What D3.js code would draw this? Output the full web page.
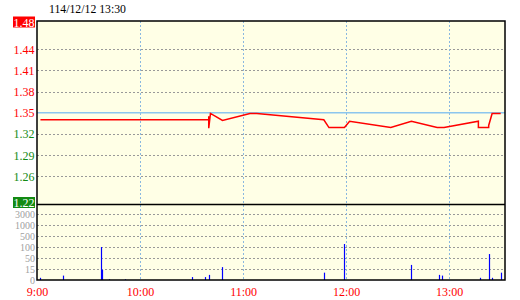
<!DOCTYPE html>
<html>
<head>
<meta charset="utf-8">
<script src="https://cdn.jsdelivr.net/npm/d3@7"></script>
<style>
    body { margin: 0; background: #fff; }
    text { font-family: "Liberation Serif", serif; }
</style>
</head>
<body>
<div id="chart"></div>
<script>
var title = "114/12/12 13:30";
var prevClose = 1.35;

// price axis labels (limit up / limit down at the ends)
var priceTicks = [1.48, 1.44, 1.41, 1.38, 1.35, 1.32, 1.29, 1.26, 1.22];

// volume axis is not linear: each label sits on an even step
var volTicks = [0, 15, 50, 100, 500, 1000, 3000];
var volTickLabels = ["0", "15", "50", "100", "500", "1000", "3000"];

var timeTicks = ["9:00", "10:00", "11:00", "12:00", "13:00"];

// price line
var priceTimes = ["9:02", "10:40", "10:40", "10:40", "10:41", "10:48", "11:04", "11:08", "11:47", "11:50",
    "11:59", "12:00", "12:02", "12:26", "12:38", "12:53", "12:57", "13:17", "13:17", "13:23", "13:23", "13:25", "13:30"];
var priceValues = [1.340, 1.340, 1.345, 1.328, 1.349, 1.339, 1.349, 1.349, 1.340, 1.329,
    1.329, 1.332, 1.338, 1.329, 1.338, 1.329, 1.329, 1.338, 1.329, 1.329, 1.332, 1.349, 1.349];

// volume bars
var volTimes = ["9:02", "9:15", "9:37", "9:38", "9:42", "9:51", "10:30", "10:38", "10:40", "10:48",
    "11:47", "11:59", "12:38", "12:54", "12:56", "13:18", "13:23", "13:25", "13:30"];
var volValues = [3, 6, 100, 14, 1, 1, 4, 4, 7, 21, 10, 210, 28, 7, 6, 3, 68, 3, 10];

// minutes after 9:00
function toMin(s) {
    var p = s.split(":");
    return (+p[0] - 9) * 60 + (+p[1]);
}

var width = 520, height = 300;
var plotLeft = 37, plotRight = 505, plotTop = 21, plotMid = 204.5, plotBottom = 280;

var svg = d3.select("#chart").append("svg")
    .attr("width", width)
    .attr("height", height);

var x = d3.scaleLinear().domain([0, 272.5]).range([plotLeft, plotRight]);
var y = d3.scaleLinear().domain([1.22, 1.48]).range([plotMid, plotTop]);
var yVol = d3.scaleLinear()
    .domain(volTicks)
    .range(volTicks.map(function (d, i) { return plotBottom - i * 11; }));

// background
svg.append("rect")
    .attr("x", plotLeft).attr("y", plotTop)
    .attr("width", plotRight - plotLeft).attr("height", plotBottom - plotTop)
    .attr("fill", "#ffffe6");

// title
svg.append("text")
    .attr("x", 49).attr("y", 12.5)
    .attr("textLength", 77)
    .attr("lengthAdjust", "spacingAndGlyphs")
    .style("font-size", "13px")
    .attr("fill", "#000")
    .text(title);

// horizontal grid, price panel
svg.selectAll(".pgrid")
    .data(priceTicks.slice(1, -1).filter(function (d) { return d != prevClose; }))
    .enter().append("line")
    .attr("x1", plotLeft).attr("x2", plotRight)
    .attr("y1", function (d) { return Math.round(y(d)) + 0.5; })
    .attr("y2", function (d) { return Math.round(y(d)) + 0.5; })
    .attr("stroke", "#999")
    .attr("stroke-dasharray", "2,2");

// horizontal grid, volume panel
svg.selectAll(".vgrid")
    .data(volTicks.slice(1))
    .enter().append("line")
    .attr("x1", plotLeft).attr("x2", plotRight)
    .attr("y1", function (d) { return Math.round(yVol(d)) + 0.5; })
    .attr("y2", function (d) { return Math.round(yVol(d)) + 0.5; })
    .attr("stroke", "#999")
    .attr("stroke-dasharray", "2,2");

// vertical grid
svg.selectAll(".tgrid")
    .data(timeTicks.slice(1))
    .enter().append("line")
    .attr("x1", function (d) { return Math.round(x(toMin(d))) + 0.5; })
    .attr("x2", function (d) { return Math.round(x(toMin(d))) + 0.5; })
    .attr("y1", plotTop).attr("y2", plotBottom)
    .attr("stroke", "#8ab8e0")
    .attr("stroke-dasharray", "2,2");

// previous close line
svg.append("line")
    .attr("x1", plotLeft).attr("x2", plotRight)
    .attr("y1", y(prevClose)).attr("y2", y(prevClose))
    .attr("stroke", "#8cc6ee")
    .attr("stroke-width", 1.5);

// price line
var priceData = priceTimes.map(function (t, i) { return { t: toMin(t), v: priceValues[i] }; });
var line = d3.line()
    .x(function (d) { return x(d.t); })
    .y(function (d) { return y(d.v); });

svg.append("path")
    .datum(priceData)
    .attr("d", line)
    .attr("fill", "none")
    .attr("stroke", "#ff0000")
    .attr("stroke-width", 1.5);

// volume bars
svg.selectAll(".vol")
    .data(volTimes.map(function (t, i) { return { t: toMin(t), v: volValues[i] }; }))
    .enter().append("line")
    .attr("x1", function (d) { return Math.round(x(d.t)) + 0.5; })
    .attr("x2", function (d) { return Math.round(x(d.t)) + 0.5; })
    .attr("y1", plotBottom)
    .attr("y2", function (d) { return yVol(d.v); })
    .attr("stroke", "#0000ff")
    .attr("stroke-width", 1.2);

// frame
svg.append("rect")
    .attr("x", plotLeft).attr("y", plotTop)
    .attr("width", plotRight - plotLeft).attr("height", plotBottom - plotTop)
    .attr("fill", "none")
    .attr("stroke", "#000")
    .attr("stroke-width", 1.5);
svg.append("line")
    .attr("x1", plotLeft).attr("x2", plotRight)
    .attr("y1", plotMid).attr("y2", plotMid)
    .attr("stroke", "#000")
    .attr("stroke-width", 1.5);

// price labels, the limit ones are nudged inside the panel
var last = priceTicks.length - 1;
function nudge(i) { return i == 0 ? 1 : (i == last ? -2 : 0); }

var pl = svg.selectAll(".plabel")
    .data(priceTicks)
    .enter().append("g")
    .attr("transform", function (d, i) { return "translate(0," + (y(d) + nudge(i)) + ")"; });

pl.filter(function (d, i) { return i == 0 || i == last; })
    .append("rect")
    .attr("x", 13).attr("y", -5.5)
    .attr("width", 22).attr("height", 11)
    .attr("fill", function (d) { return d > prevClose ? "#ff0000" : "#138a13"; });

pl.append("text")
    .attr("x", 34.5).attr("y", 4.5)
    .attr("text-anchor", "end")
    .style("font-size", "12px")
    .attr("fill", function (d, i) {
        if (i == 0 || i == last) return "#fff";
        return d >= prevClose ? "#ff0000" : "#138a13";
    })
    .text(function (d) { return d3.format(".2f")(d); });

// volume labels
svg.selectAll(".vlabel")
    .data(volTicks)
    .enter().append("text")
    .attr("x", 35).attr("y", function (d) { return yVol(d) + 3.8; })
    .attr("text-anchor", "end")
    .style("font-size", "10px")
    .attr("fill", "#a0a0a0")
    .text(function (d, i) { return volTickLabels[i]; });

// time labels
svg.selectAll(".tlabel")
    .data(timeTicks)
    .enter().append("text")
    .attr("x", function (d) { return x(toMin(d)) + 0.5; })
    .attr("y", 296)
    .attr("text-anchor", "middle")
    .style("font-size", "12px")
    .attr("fill", "#ff0000")
    .text(function (d) { return d; });
</script>
</body>
</html>
